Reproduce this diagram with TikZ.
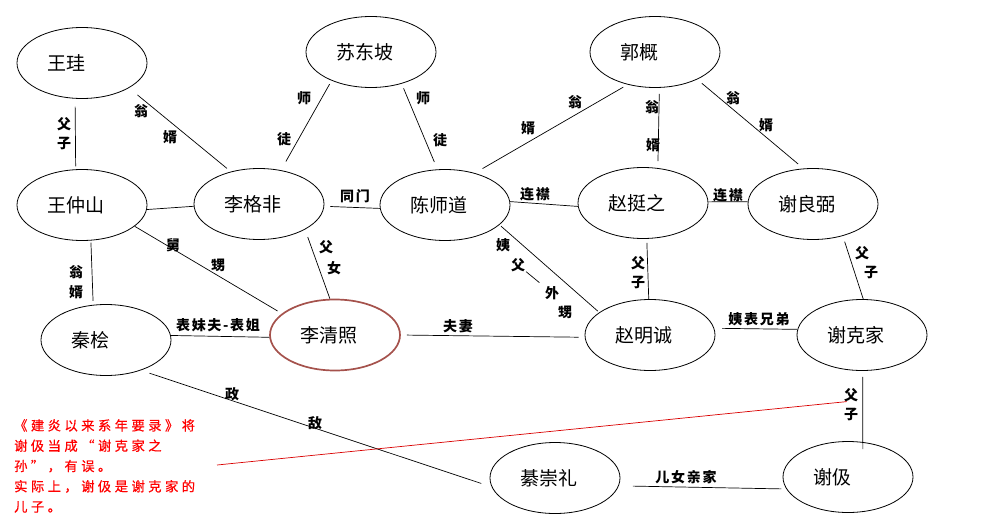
\documentclass[tikz,border=0pt]{standalone}
\usepackage{fontspec}
\newfontfamily\cjk{Noto Sans CJK SC}
\newfontfamily\cjkrel[LetterSpace=12]{Noto Sans CJK SC}
\newfontfamily\cjknote[LetterSpace=26,FakeBold=0.6]{Noto Sans CJK SC}
\usepackage{tikz}
\usetikzlibrary{
    shapes,
    calc,
    positioning,
}
\definecolor{heroineRed}{RGB}{165,82,76}

\begin{document}
\begin{tikzpicture}[x=1pt,y=-1pt]

    \tikzstyle{commonNode}=[inner sep=0pt, text=black]
    \tikzstyle{person}=[commonNode, ellipse, draw=black, line width=0.8pt, minimum width=130pt, minimum height=71pt, text width=70pt, align=left, font=\cjk\fontsize{19}{21}\selectfont]
    \tikzstyle{heroine}=[person, draw=heroineRed, line width=1.7pt]
    \tikzstyle{rel}=[commonNode, font=\cjkrel\bfseries\fontsize{14}{15}\selectfont]
    \tikzstyle{link}=[line width=0.7pt, draw=black]
    \tikzstyle{note}=[commonNode, text=red, align=left, anchor=north west, font=\cjknote\fontsize{13.3}{20.3}\selectfont]
    \tikzstyle{noteLine}=[line width=0.7pt, draw=red!85!black]

    \useasboundingbox (0,0) rectangle (991,525);

    \begin{scope}
        % People
        \node at (82,63)   [person]  (WG)  {王珪};
        \node at (82,205)  [person]  (WZS) {王仲山};
        \node at (259,204) [person]  (LGF) {李格非};
        \node at (371,52)  [person]  (SDP) {苏东坡};
        \node at (445,205) [person]  (CSD) {陈师道};
        \node at (655,52)  [person]  (GG)  {郭概};
        \node at (643,203) [person]  (ZTZ) {赵挺之};
        \node at (813,204) [person]  (XLB) {谢良弼};
        \node at (106,340) [person]  (QH)  {秦桧};
        \node at (335,335) [heroine] (LQZ) {李清照};
        \node at (650,335) [person]  (ZMC) {赵明诚};
        \node at (862,335) [person]  (XKJ) {谢克家};
        \node at (555,478) [person]  (QCL) {綦崇礼};
        \node at (848,477) [person]  (XJ)  {谢伋};

        % Relations
        \draw [link, shorten <=8pt, shorten >=3pt]  (WG.259)  -- (WZS.100);
        \draw [link, shorten <=11pt, shorten >=5pt] (WG.332)  -- (LGF.131);
        \draw [link]                                (WZS.356) -- (LGF.182);
        \draw [link, shorten <=10pt, shorten >=4pt] (LGF.57)  -- (SDP.216);
        \draw [link, shorten <=6pt]                 (LGF.358) -- (CSD.183);
        \draw [link, shorten <=5pt, shorten >=8pt]  (SDP.314) -- (CSD.102);
        \draw [link, shorten <=9pt, shorten >=5pt]  (CSD.47)  -- (GG.230);
        \draw [link, shorten <=6pt, shorten >=7pt]  (GG.277)  -- (ZTZ.67);
        \draw [link, shorten <=6pt, shorten >=7pt]  (GG.327)  -- (XLB.105);
        \draw [link]                                (CSD.3)   -- (ZTZ.183);
        \draw [link]                                (ZTZ.1)   -- (XLB.178);
        \draw [link, shorten >=5pt]                 (WZS.338) -- (LQZ.158);
        \draw [link, shorten <=2pt, shorten >=4pt]  (WZS.284) -- (QH.110);
        \draw [link, shorten <=8pt]                 (LGF.331) -- (LQZ.98);
        \draw [link]                                (QH.4)    -- (LQZ.182);
        \draw [link, shorten <=6pt, shorten >=6pt]  (LQZ.0)   -- (ZMC.182);
        \draw [link, shorten <=2pt, shorten >=2pt]  (CSD.340) -- (ZMC.156);
        \draw [link, shorten <=4pt]                 (ZTZ.276) -- (ZMC.92);
        \draw [link, shorten <=8pt]                 (ZMC.6)   -- (XKJ.175);
        \draw [link, shorten <=6pt]                 (XLB.313) -- (XKJ.88);
        \draw [link, shorten <=6pt, shorten >=-7pt] (XKJ.271) -- (XJ.67);
        \draw [link, shorten <=14pt, shorten >=5pt] (QCL.353) -- (XJ.191);
        \draw [link, shorten <=9pt, shorten >=11pt] (QH.319)  -- (QCL.188);

        % Labels
        \node at (64,124)  [rel] (r1a)  {父};
        \node at (64,143)  [rel] (r1b)  {子};
        \node at (141,111) [rel] (r2a)  {翁};
        \node at (170,137) [rel] (r2b)  {婿};
        \node at (304,98)  [rel] (r4a)  {师};
        \node at (284,139) [rel] (r4b)  {徒};
        \node at (355,196) [rel] (r5)   {同门};
        \node at (423,98)  [rel] (r6a)  {师};
        \node at (440,140) [rel] (r6b)  {徒};
        \node at (575,102) [rel] (r7a)  {翁};
        \node at (528,128) [rel] (r7b)  {婿};
        \node at (652,107) [rel] (r8a)  {翁};
        \node at (653,145) [rel] (r8b)  {婿};
        \node at (733,98)  [rel] (r9a)  {翁};
        \node at (766,125) [rel] (r9b)  {婿};
        \node at (535,194) [rel] (r10)  {连襟};
        \node at (728,195) [rel] (r11)  {连襟};
        \node at (173,245) [rel] (r12a) {舅};
        \node at (218,265) [rel] (r12b) {甥};
        \node at (76,272)  [rel] (r13a) {翁};
        \node at (76,292)  [rel] (r13b) {婿};
        \node at (326,247) [rel] (r14a) {父};
        \node at (334,268) [rel] (r14b) {女};
        \node at (218,325) [rel] (r15)  {表妹夫-表姐};
        \node at (458,326) [rel] (r16)  {夫妻};
        \node at (503,245) [rel] (r17a) {姨};
        \node at (518,265) [rel] (r17b) {父};
        \node at (552,293) [rel] (r17c) {外};
        \node at (565,312) [rel] (r17d) {甥};
        \draw [link, shorten <=1pt, shorten >=7pt] (r17b) -- (r17c);
        \node at (638,263) [rel] (r18a) {父};
        \node at (638,282) [rel] (r18b) {子};
        \node at (759,319) [rel] (r19)  {姨表兄弟};
        \node at (862,253) [rel] (r20a) {父};
        \node at (871,272) [rel] (r20b) {子};
        \node at (851,395) [rel] (r21a) {父};
        \node at (851,414) [rel] (r21b) {子};
        \node at (686,477) [rel] (r22)  {儿女亲家};
        \node at (232,394) [rel] (r23a) {政};
        \node at (315,423) [rel] (r23b) {敌};

        % Note
        \node at (14,419) [note] (N) {《建炎以来系年要录》将\\谢伋当成“谢克家之\\孙”，有误。\\实际上，谢伋是谢克家的\\儿子。};
        \coordinate (noteTip) at (217,465);
        \draw [noteLine, shorten >=-3pt] (noteTip) -- (r21a.south west);
    \end{scope}

\end{tikzpicture}
\end{document}
